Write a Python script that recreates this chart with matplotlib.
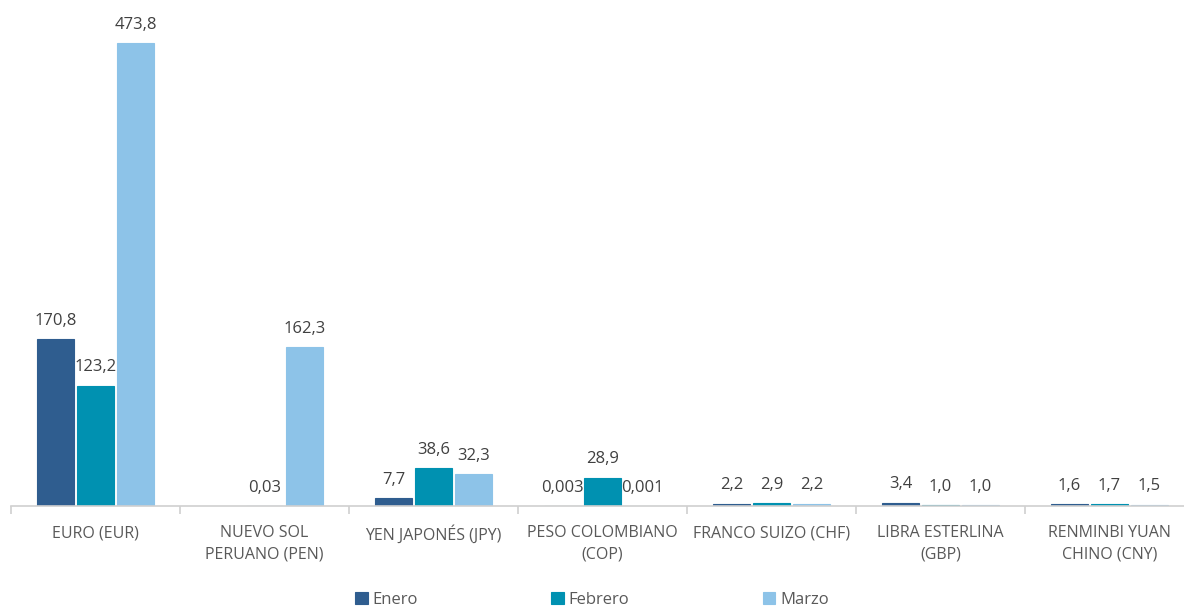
import numpy as np
import matplotlib.pyplot as plt

plt.rcParams['font.family'] = ['Open Sans', 'DejaVu Sans']

categories = ["EURO (EUR)", "NUEVO SOL\nPERUANO (PEN)", "YEN JAPONÉS (JPY)",
              "PESO COLOMBIANO\n(COP)", "FRANCO SUIZO (CHF)", "LIBRA ESTERLINA\n(GBP)",
              "RENMINBI YUAN\nCHINO (CNY)"]
series = ["Enero", "Febrero", "Marzo"]
enero = [170.8, np.nan, 7.7, 0.003, 2.2, 3.4, 1.6]
febrero = [123.2, 0.03, 38.6, 28.9, 2.9, 1.0, 1.7]
marzo = [473.8, 162.3, 32.3, 0.001, 2.2, 1.0, 1.5]
enero_lbl = ["170,8", "", "7,7", "0,003", "2,2", "3,4", "1,6"]
febrero_lbl = ["123,2", "0,03", "38,6", "28,9", "2,9", "1,0", "1,7"]
marzo_lbl = ["473,8", "162,3", "32,3", "0,001", "2,2", "1,0", "1,5"]
colors = ["#2f5d8f", "#0091b1", "#8dc3e8"]

W, H = 1184, 606
fig = plt.figure(figsize=(W / 100, H / 100), dpi=100)
ax = fig.add_axes([11 / W, 1 - 506 / H, 1183 / W, 496 / H])

x = np.arange(len(categories))
step = 0.237
for i, (vals, lbls) in enumerate(zip([enero, febrero, marzo], [enero_lbl, febrero_lbl, marzo_lbl])):
    pos = x + (i - 1) * step
    ax.bar(pos, vals, width=0.222, color=colors[i], edgecolor=colors[i],
           linewidth=0.8, label=series[i])
    for p, v, t in zip(pos, vals, lbls):
        if t:
            ax.annotate(t, (p, v), xytext=(0, 7.5), textcoords="offset points",
                        ha="center", va="bottom", fontsize=12, color="#404040",
                        annotation_clip=False)

ax.set_xlim(-0.5, len(categories) - 0.5)
ax.set_ylim(0, 473.8 * 496 / 463)
for s in ["top", "right", "left"]:
    ax.spines[s].set_visible(False)
ax.spines["bottom"].set_color("#d0d0d0")
ax.spines["bottom"].set_linewidth(1.2)
ax.set_yticks([])
ax.set_xticks(x)
ax.set_xticklabels(categories, fontsize=11.5, color="#595959", linespacing=1.4)
ax.tick_params(axis="x", which="major", length=0, pad=14)
ax.set_xticks(np.arange(-0.5, len(categories) - 1), minor=True)
ax.tick_params(axis="x", which="minor", length=6, color="#d0d0d0", width=1.2)

fig.legend(loc="lower center", bbox_to_anchor=(0.5, -0.028), ncol=3, frameon=False,
           fontsize=12, labelcolor="#595959", handlelength=0.75, handleheight=0.75,
           handletextpad=0.3, columnspacing=8.0)

fig.savefig("out.png", dpi=100)
